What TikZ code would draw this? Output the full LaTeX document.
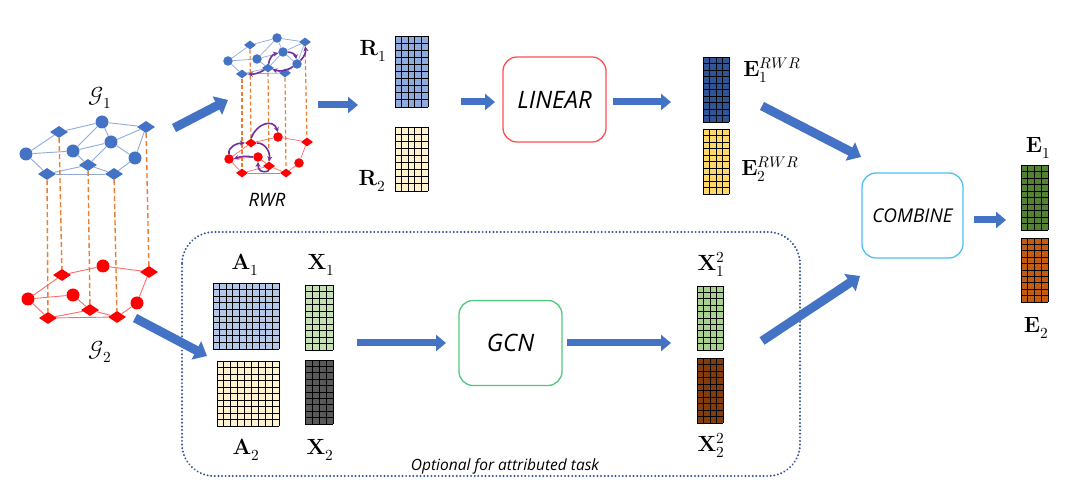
\documentclass[tikz,border=0pt]{standalone}
\usepackage{fontspec}
\usepackage{unicode-math}
\setmathfont{Latin Modern Math}
\newfontfamily\lblfont{Open Sans}
\usetikzlibrary{arrows.meta,shapes.geometric,fit,calc}
\definecolor{arrowblue}{HTML}{4472C4}
\definecolor{gblue}{HTML}{4472C4}
\definecolor{gblueedge}{HTML}{8FAADC}
\definecolor{gred}{HTML}{FF0000}
\definecolor{grededge}{HTML}{FF6B6B}
\definecolor{orangedash}{HTML}{ED7D31}
\definecolor{gpurple}{HTML}{7030A0}
\definecolor{Rone}{HTML}{8FAADC}
\definecolor{Rtwo}{HTML}{FFF2CC}
\definecolor{Eone}{HTML}{2F5597}
\definecolor{Etwo}{HTML}{FFD966}
\definecolor{Aone}{HTML}{B4C7E7}
\definecolor{Atwo}{HTML}{FFF2CC}
\definecolor{Xone}{HTML}{C5E0B4}
\definecolor{Xtwo}{HTML}{595959}
\definecolor{Xsqone}{HTML}{A9D18E}
\definecolor{Xsqtwo}{HTML}{843C0C}
\definecolor{Efone}{HTML}{548235}
\definecolor{Eftwo}{HTML}{C55A11}
\definecolor{linearred}{HTML}{FF5050}
\definecolor{gcngreen}{HTML}{4CCB7A}
\definecolor{combinecyan}{HTML}{4FC1F0}
\definecolor{dotblue}{HTML}{2F5597}
\newcommand{\gmat}[8]{%
  \fill[#8] (#2,#3) rectangle (#4,#5);
  \pgfmathsetmacro\gdx{(#4-#2)/#6}%
  \pgfmathsetmacro\gdy{(#5-#3)/#7}%
  \foreach \k in {0,...,#6} {\draw[gridline] ({#2+\k*\gdx},#3) -- ({#2+\k*\gdx},#5);}
  \foreach \k in {0,...,#7} {\draw[gridline] (#2,{#3+\k*\gdy}) -- (#4,{#3+\k*\gdy});}
  \node[inner sep=0pt, fit={(#2,#3) (#4,#5)}] (#1) {};
}
\tikzset{
  bcirc/.style={circle, fill=gblue, inner sep=0pt, minimum size=13pt},
  bdiam/.style={diamond, fill=gblue, inner sep=0pt, minimum width=18pt, minimum height=12pt},
  rcirc/.style={circle, fill=gred, inner sep=0pt, minimum size=13pt},
  rdiam/.style={diamond, fill=gred, inner sep=0pt, minimum width=18pt, minimum height=12pt},
  sbcirc/.style={bcirc, minimum size=9.5pt},
  sbdiam/.style={bdiam, minimum width=12pt, minimum height=9pt},
  srcirc/.style={rcirc, minimum size=9.5pt},
  srdiam/.style={rdiam, minimum width=12pt, minimum height=9pt},
  bedge/.style={draw=gblueedge, line width=0.9pt},
  redge/.style={draw=grededge, line width=0.9pt},
  odash/.style={draw=orangedash, line width=1.4pt, dash pattern=on 5pt off 3pt},
  parr/.style={draw=gpurple, line width=1.6pt, -{Stealth[length=5pt,width=5pt]}},
  barrow/.style={draw=arrowblue, line width=7pt, -{Triangle[length=10pt,width=16pt]}},
  darrow/.style={draw=arrowblue, line width=9pt, -{Triangle[length=12pt,width=20pt]}},
  gridline/.style={draw=black, line width=0.8pt},
  mlabel/.style={font=\fontsize{22}{26}\selectfont, inner sep=0pt},
  opbox/.style={draw, rounded corners=14pt, line width=1.3pt, minimum width=103pt, minimum height=85pt, inner sep=0pt},
  optext/.style={font=\lblfont\itshape\fontsize{24}{28}\selectfont},
}
\begin{document}
\begin{tikzpicture}[x=1pt,y=-1pt]
\fill[white] (0,0) rectangle (1080,502);
\useasboundingbox (0,0) rectangle (1080,502);

% ---------- G1 ----------
\node[mlabel] (g1lab) at (100,98) {$\mathcal{G}_1$};
\node[bdiam] (a1) at (59,132) {};
\node[bcirc] (b1) at (102,122) {};
\node[bdiam] (c1) at (146,127) {};
\node[bcirc] (d1) at (26,154) {};
\node[bcirc] (e1) at (73,151) {};
\node[bcirc] (f1) at (111,142) {};
\node[bcirc] (g1) at (135,158) {};
\node[bdiam] (h1) at (47,174) {};
\node[bdiam] (i1) at (88,165) {};
\node[bdiam] (j1) at (114,174) {};
\foreach \u/\v in {a1/b1,b1/c1,a1/d1,b1/e1,b1/f1,c1/f1,c1/g1,d1/e1,d1/h1,e1/f1,e1/i1,f1/i1,f1/g1,g1/j1,i1/j1,h1/i1,h1/j1}
  \draw[bedge] (\u) -- (\v);

% ---------- G2 ----------
\node[mlabel] (g2lab) at (100,352) {$\mathcal{G}_2$};
\node[rdiam] (A2) at (62,275) {};
\node[rcirc] (B2) at (103,266) {};
\node[rdiam] (C2) at (149,272) {};
\node[rcirc] (D2) at (28,299) {};
\node[rcirc] (E2) at (73,295) {};
\node[rdiam] (F2) at (90,310) {};
\node[rcirc] (G2) at (137,303) {};
\node[rdiam] (H2) at (48,318) {};
\node[rdiam] (I2) at (117,317) {};
\foreach \u/\v in {A2/B2,B2/C2,A2/D2,D2/E2,D2/H2,E2/F2,F2/H2,F2/I2,H2/I2,C2/G2,G2/I2}
  \draw[redge] (\u) -- (\v);

\foreach \u/\v in {h1/H2,a1/A2,i1/F2,j1/I2,c1/C2}
  \draw[odash] (\u) -- (\v);

% ---------- RWR graphs ----------
\node[sbdiam] (ta) at (250,45) {};
\node[sbcirc] (tb) at (277,38) {};
\node[sbdiam] (tc) at (305,42) {};
\node[sbcirc] (td) at (228,61) {};
\node[sbcirc] (te) at (257,59) {};
\node[sbcirc] (tf) at (283,52) {};
\node[sbcirc] (tg) at (297,64) {};
\node[sbdiam] (th) at (242,74) {};
\node[sbdiam] (ti) at (268,68) {};
\node[sbdiam] (tj) at (285,73) {};
\foreach \u/\v in {ta/tb,tb/tc,ta/td,tb/te,tb/tf,tc/tf,tc/tg,td/te,td/th,te/tf,te/ti,tf/ti,tf/tg,tg/tj,ti/tj,th/ti,th/tj}
  \draw[bedge, line width=0.7pt] (\u) -- (\v);

\node[srdiam] (ua) at (251,143) {};
\node[srcirc] (ub) at (278,137) {};
\node[srdiam] (uc) at (307,142) {};
\node[srcirc] (ud) at (229,159) {};
\node[srcirc] (ue) at (258,157) {};
\node[srdiam] (uf) at (269,166) {};
\node[srcirc] (ug) at (299,163) {};
\node[srdiam] (uh) at (242,173) {};
\node[srdiam] (ui) at (286,173) {};
\foreach \u/\v in {ua/ub,ub/uc,ua/ud,ud/ue,ud/uh,ue/uf,uf/uh,uf/ui,uh/ui,uc/ug,ug/ui}
  \draw[redge, line width=0.7pt] (\u) -- (\v);

\foreach \u/\v in {th/uh,ta/ua,ti/uf,tj/ui,tc/uc}
  \draw[odash, line width=1.2pt, dash pattern=on 4pt off 2.5pt] (\u) -- (\v);

% purple walks (top)
\draw[parr] (ti) to[bend left=15] (th);
\draw[parr] (tg) to[bend left=25] (ti);
\draw[parr] (ti) to[bend left=35] (tf);
\draw[parr] (tf) to[bend left=40] (tg);
\draw[parr] (tg) to[bend right=25] (tc);
% purple walks (bottom)
\draw[parr] (ua.north) to[out=70,in=110,looseness=1.4] (ub.north);
\draw[parr] (ud.north) to[out=100,in=180] (ua.west);
\draw[parr] (ua.east) to[out=0,in=80] (uf.north);
\draw[parr] (ue.west) to[bend right=15] (ud.east);
\draw[parr] (uf.south) to[out=200,in=-90,looseness=1.5] (ue.south);

\node[font=\lblfont\itshape\fontsize{18.5}{22}\selectfont, inner sep=0pt] (rwrlab) at (267,200) {RWR};

% ---------- matrices ----------
\gmat{R1m}{395}{36}{428}{107}{5}{10}{Rone}
\gmat{R2m}{395}{127}{428}{191}{5}{9}{Rtwo}
\gmat{E1r}{703}{57}{729}{122}{4}{10}{Eone}
\gmat{E2r}{703}{129}{729}{194}{4}{10}{Etwo}
\gmat{A1m}{213}{283}{279}{349}{10}{10}{Aone}
\gmat{A2m}{217}{361}{279}{426}{9}{10}{Atwo}
\gmat{X1m}{305}{285}{333}{350}{4}{10}{Xone}
\gmat{X2m}{305}{360}{333}{424}{4}{10}{Xtwo}
\gmat{Y1m}{697}{286}{723}{350}{4}{10}{Xsqone}
\gmat{Y2m}{697}{358}{723}{423}{4}{10}{Xsqtwo}
\gmat{F1m}{1021}{165}{1048}{230}{4}{10}{Efone}
\gmat{F2m}{1021}{238}{1048}{302}{4}{10}{Eftwo}

% ---------- math labels ----------
\node[mlabel] (R1lab) at (373,51) {$\mathbf{R}_1$};
\node[mlabel] (R2lab) at (372,181) {$\mathbf{R}_2$};
\node[mlabel] (E1rlab) at (772,70) {$\mathbf{E}_1^{RWR}$};
\node[mlabel] (E2rlab) at (770,169) {$\mathbf{E}_2^{RWR}$};
\node[mlabel] (A1lab) at (245,265) {$\mathbf{A}_1$};
\node[mlabel] (A2lab) at (246,450) {$\mathbf{A}_2$};
\node[mlabel] (X1lab) at (321,265) {$\mathbf{X}_1$};
\node[mlabel] (X2lab) at (320,450) {$\mathbf{X}_2$};
\node[mlabel] (Y1lab) at (711,264) {$\mathbf{X}_1^2$};
\node[mlabel] (Y2lab) at (711,445) {$\mathbf{X}_2^2$};
\node[mlabel] (F1lab) at (1038,148) {$\mathbf{E}_1$};
\node[mlabel] (F2lab) at (1036,328) {$\mathbf{E}_2$};

% ---------- operation boxes ----------
\node[opbox, draw=linearred] (linear) at (554.5,99.5) {};
\node[optext] at (linear.center) {LINEAR};
\node[opbox, draw=gcngreen] (gcn) at (510.5,343) {};
\node[optext] at (gcn.center) {GCN};
\node[opbox, draw=combinecyan, minimum width=101pt] (combine) at (912.5,215.5) {};
\node[font=\lblfont\itshape\fontsize{19}{23}\selectfont] at (combine.center) {COMBINE};

% ---------- dotted optional box ----------
\draw[dotblue, line width=2.2pt, dash pattern=on 0.01pt off 3.6pt, line cap=round, rounded corners=32pt] (182,232) rectangle (800,476);
\node[font=\lblfont\itshape\fontsize{15.5}{19}\selectfont, inner sep=0pt] (optlab) at (505,466) {Optional for attributed task};

% ---------- block arrows ----------
\coordinate (p1s) at (174,128); \coordinate (p1e) at (228,100);
\coordinate (p2s) at (135,318); \coordinate (p2e) at (207,356);
\coordinate (p3s) at (318,105); \coordinate (p3e) at (358,105);
\coordinate (p4s) at (461,102); \coordinate (p4e) at (495,102);
\coordinate (p5s) at (613,102); \coordinate (p5e) at (671,102);
\coordinate (p6s) at (762,106); \coordinate (p6e) at (861,157);
\coordinate (p7s) at (762,341); \coordinate (p7e) at (860,276);
\coordinate (p8s) at (974,220); \coordinate (p8e) at (1006,220);
\coordinate (p9s) at (357,343); \coordinate (p9e) at (446,343);
\coordinate (p10s) at (567,343); \coordinate (p10e) at (671,343);
\draw[darrow] (p1s) -- (p1e);
\draw[darrow] (p2s) -- (p2e);
\draw[barrow] (p3s) -- (p3e);
\draw[barrow] (p4s) -- (p4e);
\draw[barrow] (p5s) -- (p5e);
\draw[darrow] (p6s) -- (p6e);
\draw[darrow] (p7s) -- (p7e);
\draw[barrow] (p8s) -- (p8e);
\draw[barrow] (p9s) -- (p9e);
\draw[barrow] (p10s) -- (p10e);
\end{tikzpicture}
\end{document}
